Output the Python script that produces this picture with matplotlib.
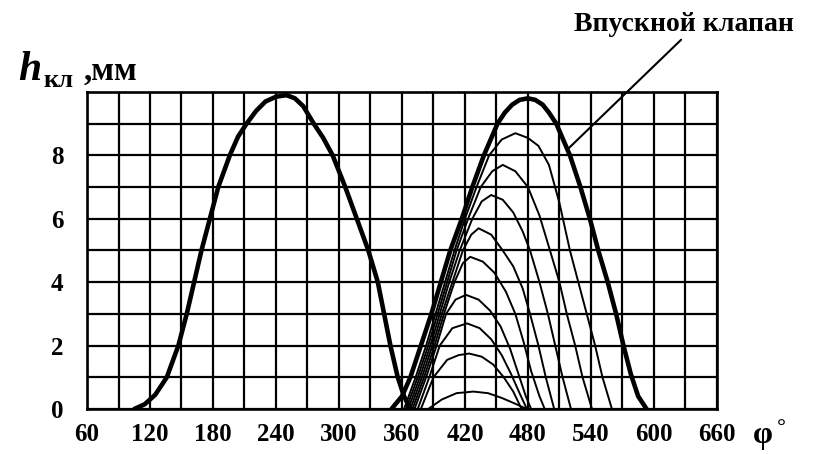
import matplotlib.pyplot as plt

plt.rcParams['font.family'] = ['Liberation Serif', 'DejaVu Serif']

# exhaust valve lift (thick, left)
exh_phi = [105, 115, 125, 136, 147, 155, 162, 169, 177, 185, 196, 204, 212, 221, 230, 240, 250,
           258, 266, 276, 285, 294, 306, 317, 328, 337, 343, 349, 356, 362, 368]
exh_h = [0, 0.15, 0.45, 1, 2, 3, 4, 5, 6, 7, 8, 8.6, 9, 9.4, 9.7, 9.85, 9.9,
         9.8, 9.55, 9, 8.55, 8, 7, 6, 5, 4, 3, 2, 1, 0.4, 0]

# intake valve lift (thick, right)
inl_phi = [350, 360, 368, 378, 388, 397, 406, 417, 427, 438, 451, 458, 465, 472, 480,
           487, 494, 500, 507, 520, 530, 539, 547, 556, 564, 571, 578, 585, 593]
inl_h = [0, 0.4, 1, 2, 3, 4, 5, 6, 7, 8, 9, 9.35, 9.6, 9.75, 9.8,
         9.75, 9.6, 9.35, 9, 8, 7, 6, 5, 4, 3, 2, 1.1, 0.4, 0]

# family of thin intake curves
thin1_phi = [385, 398, 412, 428, 442, 455, 467, 479]
thin1_h = [0, 0.3, 0.5, 0.55, 0.5, 0.35, 0.18, 0]
thin2_phi = [378, 390, 403, 414, 424, 436, 447, 457, 466, 474]
thin2_h = [0, 1, 1.55, 1.7, 1.75, 1.65, 1.4, 1.0, 0.55, 0]
thin3_phi = [375, 386, 396, 408, 422, 434, 445, 455, 464, 472, 479]
thin3_h = [0, 1, 2, 2.55, 2.7, 2.55, 2.2, 1.7, 1.1, 0.5, 0]
thin4_phi = [372, 383, 393, 402, 411, 421, 433, 444, 454, 463, 471, 478, 483]
thin4_h = [0, 1, 2, 3, 3.45, 3.6, 3.45, 3.1, 2.6, 1.9, 1.1, 0.4, 0]
thin5_phi = [370, 381, 391, 400, 410, 418, 425, 437, 448, 459, 468, 476, 483, 491, 496]
thin5_h = [0, 1, 2, 3, 4, 4.6, 4.8, 4.65, 4.3, 3.7, 3.0, 2.1, 1.2, 0.4, 0]
thin6_phi = [368, 379, 389, 398, 408, 418, 426, 433, 445, 456, 466, 475, 482, 490, 497, 505]
thin6_h = [0, 1, 2, 3, 4, 5, 5.5, 5.7, 5.5, 5.0, 4.5, 3.8, 3.0, 2.0, 1.0, 0]
thin7_phi = [366, 377, 387, 396, 405, 415, 427, 436, 445, 456, 466, 475, 482, 491, 499, 506, 513, 521]
thin7_h = [0, 1, 2, 3, 4, 5, 6, 6.55, 6.75, 6.6, 6.2, 5.6, 5, 4, 3, 2, 1, 0]
thin8_phi = [364, 375, 385, 394, 403, 412, 423, 435, 446, 456, 468, 480, 491, 501, 510, 517, 525, 532, 541]
thin8_h = [0, 1, 2, 3, 4, 5, 6, 7, 7.5, 7.7, 7.5, 7.0, 6.1, 5, 4, 3, 2, 1, 0]
thin9_phi = [362, 373, 383, 392, 401, 410, 420, 431, 443, 455, 468, 480, 490, 500, 510, 520, 528,
             536, 544, 551, 560]
thin9_h = [0, 1, 2, 3, 4, 5, 6, 7, 8, 8.5, 8.7, 8.55, 8.3, 7.7, 6.5, 5.0, 4, 3, 2, 1, 0]

thin_phi = [thin1_phi, thin2_phi, thin3_phi, thin4_phi, thin5_phi,
            thin6_phi, thin7_phi, thin8_phi, thin9_phi]
thin_h = [thin1_h, thin2_h, thin3_h, thin4_h, thin5_h,
          thin6_h, thin7_h, thin8_h, thin9_h]

x_ticks = [60, 120, 180, 240, 300, 360, 420, 480, 540, 600, 660]
y_ticks = [0, 2, 4, 6, 8]

fig = plt.figure(figsize=(8.17, 4.54), dpi=100)
ax = fig.add_axes([0.1065, 0.0991, 0.771, 0.6983])
ax.set_xlim(60, 660)
ax.set_ylim(0, 10)

ax.set_xticks(x_ticks)
ax.set_xticks(range(90, 660, 60), minor=True)
ax.set_yticks(y_ticks)
ax.set_yticks([1, 3, 5, 7, 9], minor=True)
ax.grid(which='both', color='black', lw=1.6)
ax.set_axisbelow(True)
ax.tick_params(which='both', length=0)
ax.tick_params(axis='x', pad=10)
ax.tick_params(axis='y', pad=17)
for lab in ax.get_xticklabels() + ax.get_yticklabels():
    lab.set_fontsize(18)
    lab.set_fontweight('bold')
for sp in ax.spines.values():
    sp.set_linewidth(1.9)
    sp.set_color('black')

for px, hy in zip(thin_phi, thin_h):
    ax.plot(px, hy, color='black', lw=1.4, solid_joinstyle='round', solid_capstyle='round')
ax.plot(exh_phi, exh_h, color='black', lw=3.3, solid_joinstyle='round', solid_capstyle='round')
ax.plot(inl_phi, inl_h, color='black', lw=3.3, solid_joinstyle='round', solid_capstyle='round')

# leader line for the intake valve label
ax.annotate('Впускной клапан', xy=(518, 8.2), xytext=(684 / 817, 1 - 37 / 454),
            textcoords='figure fraction', annotation_clip=False,
            fontsize=20, fontweight='bold', ha='center', va='bottom',
            arrowprops=dict(arrowstyle='-', color='black', lw=1.5, shrinkA=0, shrinkB=0,
                            relpos=(0.5, 0)))

# axis captions
fig.text(18 / 817, 1 - 80 / 454, 'h', fontsize=30, fontweight='bold', style='italic')
fig.text(43 / 817, 1 - 87 / 454, 'кл', fontsize=19, fontweight='bold')
fig.text(84 / 817, 1 - 80 / 454, ',мм', fontsize=24, fontweight='bold')
fig.text(763 / 817, 1 - 436 / 454, 'φ', fontsize=23, fontweight='bold', ha='center', va='center')
fig.text(781 / 817, 1 - 429 / 454, '°', fontsize=16, fontweight='bold', ha='center', va='center')

fig.savefig('out.png', dpi=100)
